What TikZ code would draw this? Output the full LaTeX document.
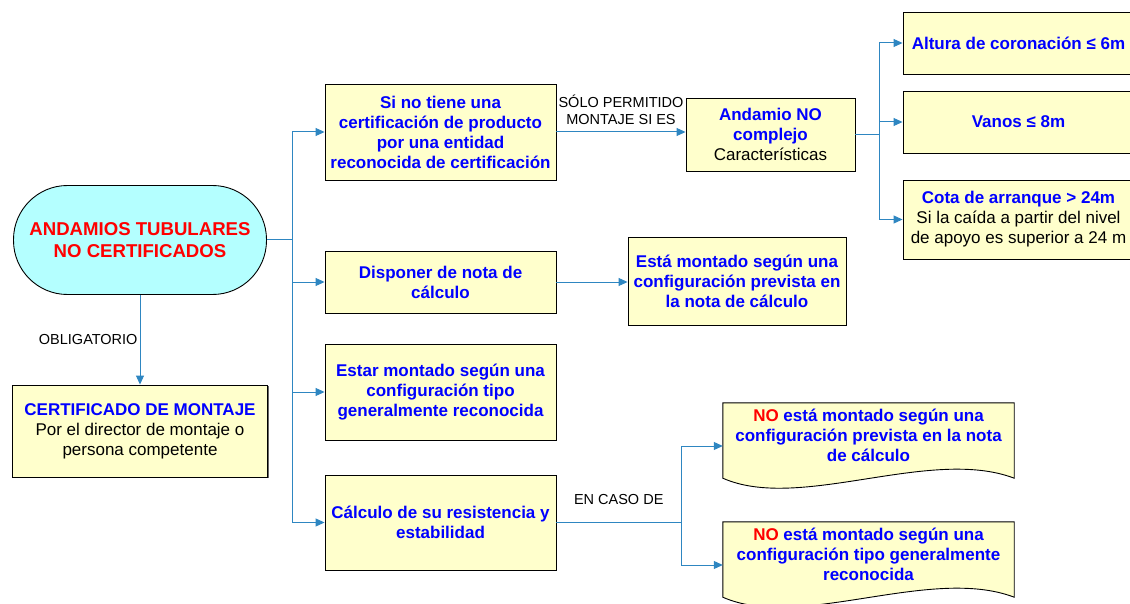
\documentclass[tikz,border=0pt]{standalone}
\usepackage{fontspec}
\setmainfont{Liberation Sans}
\usepackage{xcolor}
\usetikzlibrary{arrows.meta,shadows,backgrounds}
\definecolor{boxfill}{RGB}{255,255,204}
\definecolor{pillfill}{RGB}{180,255,255}
\definecolor{wireblue}{RGB}{46,134,193}
\definecolor{txtblue}{RGB}{0,0,255}
\definecolor{txtred}{RGB}{255,0,0}
\newcommand{\plaintxt}[1]{{\mdseries\color{black}#1}}

\begin{document}
\begin{tikzpicture}[x=1pt, y=1pt,
  yellowbox/.style={draw, line width=0.9pt, fill=boxfill, align=center, inner sep=2pt, text=txtblue,
    font=\bfseries\fontsize{17}{20}\selectfont,
    drop shadow={shadow xshift=1.2pt, shadow yshift=-1.2pt, fill=black!60, opacity=1}},
  docbox/.style={align=center, inner sep=2pt, text=txtblue, font=\bfseries\fontsize{17}{20}\selectfont,
    minimum width=291pt, minimum height=64pt},
  wire/.style={draw=wireblue, line width=1pt},
  wirearrow/.style={wire, -{Triangle[length=9pt, width=8pt]}},
  tag/.style={font=\fontsize{14.5}{17}\selectfont, align=center, inner sep=2pt}] %page is 1130 x 604, y grows upwards
\useasboundingbox (0,0) rectangle (1130,-604);
\clip (0,0) rectangle (1130,-604);

\node (pill) [draw, line width=0.9pt, fill=pillfill, rounded corners=54pt, minimum width=253pt, minimum height=109pt,
  align=center, text=txtred, font=\bfseries\fontsize{18.6}{22}\selectfont] at (140,-240) {ANDAMIOS TUBULARES\\NO CERTIFICADOS};
\node (cert) [yellowbox, minimum width=255pt, minimum height=92pt] at (140,-431)
  {CERTIFICADO DE MONTAJE\\\plaintxt{Por el director de montaje o}\\\plaintxt{persona competente}};

\node (b1) [yellowbox, minimum width=231pt, minimum height=96pt] at (440.5,-132)
  {Si no tiene una\\certificación de producto\\por una entidad\\reconocida de certificación};
\node (b2) [yellowbox, minimum width=231pt, minimum height=62pt] at (440.5,-282) {Disponer de nota de\\cálculo};
\node (b3) [yellowbox, minimum width=231pt, minimum height=96pt] at (440.5,-392)
  {Estar montado según una\\configuración tipo\\generalmente reconocida};
\node (b4) [yellowbox, minimum width=231pt, minimum height=95pt] at (440.5,-522.5) {Cálculo de su resistencia y\\estabilidad};

\node (anc) [yellowbox, minimum width=169pt, minimum height=73pt] at (770.5,-134.5) {Andamio NO\\complejo\\\plaintxt{Características}};
\node (r1) [yellowbox, minimum width=231pt, minimum height=62pt] at (1018.5,-43) {Altura de coronación ≤ 6m};
\node (r2) [yellowbox, minimum width=231pt, minimum height=62pt] at (1018.5,-122) {Vanos ≤ 8m};
\node (r3) [yellowbox, minimum width=231pt, minimum height=79pt] at (1018.5,-219.5)
  {Cota de arranque > 24m\\\plaintxt{Si la caída a partir del nivel}\\\plaintxt{de apoyo es superior a 24 m}};

\node (e1) [yellowbox, minimum width=218pt, minimum height=88pt] at (737,-281)
  {Está montado según una\\configuración prevista en\\la nota de cálculo};

\node (d1) [docbox] at (868.5,-435)
  {\textcolor{txtred}{NO} está montado según una\\configuración prevista en la nota\\de cálculo};
\node (d2) [docbox] at (868.5,-554)
  {\textcolor{txtred}{NO} está montado según una\\configuración tipo generalmente\\reconocida};
\begin{scope}[on background layer]
\foreach \d in {d1,d2}
  \draw [line width=0.9pt, fill=boxfill] (\d.north west) -- (\d.north east) -- ([yshift=-11pt]\d.south east)
    .. controls +(-84,32) and +(77,-34) .. ([yshift=-11pt]\d.south west) -- cycle;
\end{scope}

% main trunk
\coordinate (trunk) at (292,-240);
\draw [wire] (pill.east) -- (trunk);
\draw [wire] (trunk |- b1.west) -- (trunk |- b4.west);
\foreach \b in {b1,b2,b3,b4}
  \draw [wirearrow] (trunk |- \b.west) -- (\b.west);
\draw [wirearrow] (pill.south) -- node[tag, left] {OBLIGATORIO} (cert.north);

\draw [wirearrow] (b1.east) -- node[tag, above=5pt] {SÓLO PERMITIDO\\MONTAJE SI ES} (b1.east -| anc.west);
\coordinate (fork) at (879,-134.5);
\draw [wire] (anc.east) -- (fork);
\draw [wire] (fork |- r1.west) -- (fork |- r3.west);
\foreach \r in {r1,r2,r3}
  \draw [wirearrow] (fork |- \r.west) -- (\r.west);

\draw [wirearrow] (b2.east) -- (b2.east -| e1.west);

\coordinate (split) at (681,-522.5);
\coordinate (d1in) at ([yshift=-11pt]d1.west);
\coordinate (d2in) at ([yshift=-11pt]d2.west);
\draw [wire] (b4.east) -- node[tag, above=15pt] {EN CASO DE} (split);
\draw [wire] (split |- d1in) -- (split |- d2in);
\foreach \d in {d1in,d2in}
  \draw [wirearrow] (split |- \d) -- (\d);
\end{tikzpicture}
\end{document}
